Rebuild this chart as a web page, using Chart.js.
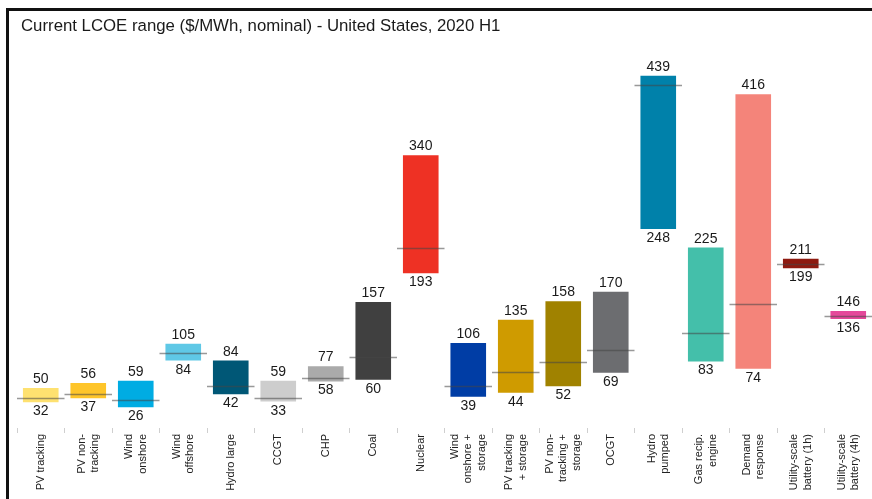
<!DOCTYPE html>
<html>
<head>
<meta charset="utf-8">
<title>Current LCOE range - United States, 2020 H1</title>
<script src="https://cdn.jsdelivr.net/npm/chart.js@4.4.1/dist/chart.umd.min.js"></script>
<style>
  html, body { margin: 0; padding: 0; background: #ffffff; }
  #wrap { position: relative; width: 872px; height: 499px; }
  canvas { display: block; }
</style>
</head>
<body>
<div id="wrap"><canvas id="lcoe" width="872" height="499"></canvas></div>
<script>
// Technologies, each label split into the lines shown under the axis
const categories = [
  ["PV tracking"],
  ["PV non-", "tracking"],
  ["Wind", "onshore"],
  ["Wind", "offshore"],
  ["Hydro large"],
  ["CCGT"],
  ["CHP"],
  ["Coal"],
  ["Nuclear"],
  ["Wind", "onshore +", "storage"],
  ["PV tracking", "+ storage"],
  ["PV non-", "tracking +", "storage"],
  ["OCGT"],
  ["Hydro", "pumped"],
  ["Gas recip.", "engine"],
  ["Demand", "response"],
  ["Utility-scale", "battery (1h)"],
  ["Utility-scale", "battery (4h)"]
];

// LCOE range in $/MWh (nominal)
const lowValues    = [32, 37, 26, 84, 42, 33, 58, 60, 193, 39, 44, 52, 69, 248, 83, 74, 199, 136];
const highValues   = [50, 56, 59, 105, 84, 59, 77, 157, 340, 106, 135, 158, 170, 439, 225, 416, 211, 146];
const medianValues = [38, 43, 35, 94, 52, 38, 62, 88, 225, 52, 70, 82, 97, 427, 118, 155, 205, 140];

const barColors = [
  "#FEE170", "#FEC52A", "#00ACE3", "#5FC8E6", "#005776", "#CDCDCD",
  "#AAAAAA", "#404040", "#EE3124", "#003DA5", "#CF9B00", "#A08200",
  "#6C6D70", "#0081AA", "#44BFAA", "#F4847A", "#8E1A10", "#E5489A"
];

const FONT = "'Liberation Sans', Arial, Helvetica, sans-serif";

// Frame, title, medians, value labels and category labels
const decorations = {
  id: "decorations",
  beforeDraw(chart) {
    const ctx = chart.ctx;
    ctx.save();
    ctx.fillStyle = "#ffffff";
    ctx.fillRect(0, 0, chart.width, chart.height);
    ctx.fillStyle = "#111111";
    ctx.fillRect(6, 8, 3, chart.height - 8);
    ctx.fillRect(6, 8, chart.width - 6, 3);
    ctx.fillStyle = "#1a1a1a";
    ctx.font = "16.8px " + FONT;
    ctx.textAlign = "left";
    ctx.textBaseline = "alphabetic";
    ctx.fillText("Current LCOE range ($/MWh, nominal) - United States, 2020 H1", 21, 31);
    ctx.restore();
  },
  afterDatasetsDraw(chart) {
    const ctx = chart.ctx;
    const x = chart.scales.x;
    const y = chart.scales.y;
    const meta = chart.getDatasetMeta(0);
    const half = (x.getPixelForValue(1) - x.getPixelForValue(0)) / 2;
    ctx.save();

    // median marks across each category
    ctx.strokeStyle = "rgba(70,70,70,0.55)";
    ctx.lineWidth = 1.5;
    medianValues.forEach((m, i) => {
      const cx = x.getPixelForValue(i);
      const py = Math.round(y.getPixelForValue(m)) + 0.5;
      ctx.beginPath();
      ctx.moveTo(cx - half, py);
      ctx.lineTo(cx + half, py);
      ctx.stroke();
    });

    // high value above, low value below each bar
    ctx.fillStyle = "#1a1a1a";
    ctx.font = "14px " + FONT;
    ctx.textAlign = "center";
    ctx.textBaseline = "alphabetic";
    meta.data.forEach((bar, i) => {
      const top = y.getPixelForValue(highValues[i]);
      const bottom = y.getPixelForValue(lowValues[i]);
      ctx.fillText(String(highValues[i]), bar.x, top - 5);
      ctx.fillText(String(lowValues[i]), bar.x, bottom + 13);
    });

    // rotated category labels, lines stacked left to right
    ctx.fillStyle = "#222222";
    ctx.font = "11px " + FONT;
    ctx.textAlign = "right";
    ctx.textBaseline = "middle";
    const lineGap = 13.5;
    categories.forEach((lines, i) => {
      const cx = x.getPixelForValue(i);
      const n = lines.length;
      lines.forEach((txt, j) => {
        const lx = cx + (j - (n - 1) / 2) * lineGap;
        ctx.save();
        ctx.translate(lx, chart.chartArea.bottom + 6);
        ctx.rotate(-Math.PI / 2);
        ctx.fillText(txt, 0, 0);
        ctx.restore();
      });
    });
    ctx.restore();
  }
};

new Chart(document.getElementById("lcoe"), {
  type: "bar",
  data: {
    labels: categories.map(c => c.join(" ")),
    datasets: [{
      label: "LCOE range",
      data: lowValues.map((lo, i) => [lo, highValues[i]]),
      backgroundColor: barColors,
      borderWidth: 0,
      categoryPercentage: 1,
      barPercentage: 0.75
    }]
  },
  options: {
    responsive: false,
    animation: false,
    events: [],
    layout: { padding: { left: 17, right: 0, top: 59, bottom: 0 } },
    plugins: {
      legend: { display: false },
      title: { display: false },
      tooltip: { enabled: false }
    },
    scales: {
      x: {
        offset: true,
        border: { display: false },
        grid: {
          display: true,
          offset: true,
          drawOnChartArea: false,
          drawTicks: true,
          tickLength: 5,
          color: "#cfcfcf",
          lineWidth: 1
        },
        ticks: { display: false },
        afterFit(scale) { scale.height = 71; }
      },
      y: {
        display: false,
        min: 0,
        max: 460
      }
    }
  },
  plugins: [decorations]
});
</script>
</body>
</html>
